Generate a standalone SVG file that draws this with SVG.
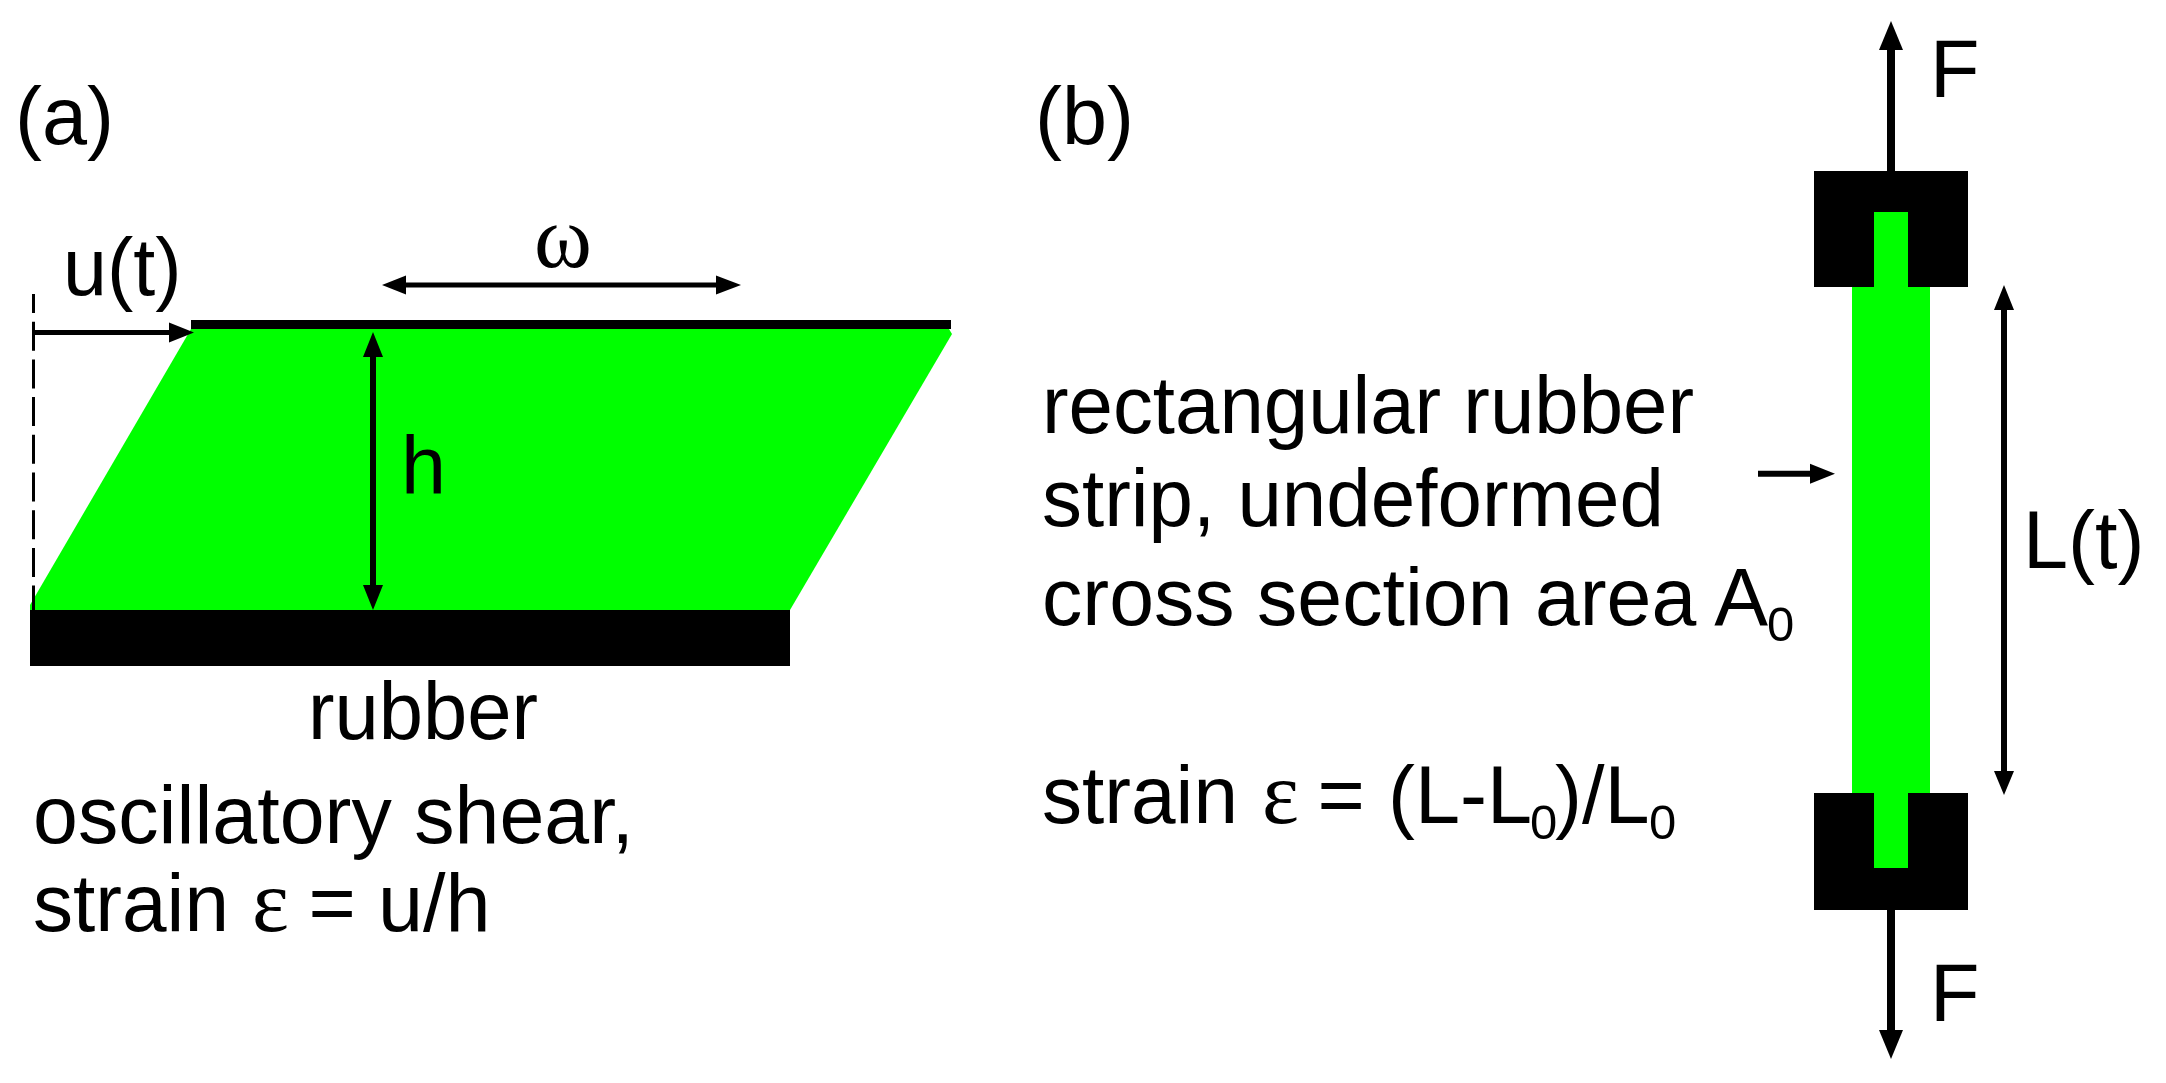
<svg xmlns="http://www.w3.org/2000/svg" width="2166" height="1083" viewBox="0 0 2166 1083">
<style>
text{font-family:"Liberation Sans",Arial,sans-serif;font-size:81px;fill:#000}
.sub{font-size:49px}
.sym{font-family:"Liberation Serif",serif;font-size:88px}
.g{fill:#0f0}
.k{fill:#000}
.l3{stroke:#000;stroke-width:3;fill:none}
.l5{stroke:#000;stroke-width:5;fill:none}
.l6{stroke:#000;stroke-width:6;fill:none}
.l8{stroke:#000;stroke-width:8;fill:none}
</style>
<rect width="2166" height="1083" fill="#fff"/>
<g id="shear-block">
<polygon class="g" points="191,329 949,329 952,334 790,610 30,610 30,605"/>
<rect class="k" x="30" y="610" width="760" height="56"/>
<rect class="k" x="191" y="320" width="760" height="9"/>
</g>
<g id="strip">
<rect class="g" x="1852" y="270" width="78" height="540"/>
<path class="k" d="M1814 171H1968V287H1908V212H1874V287H1814Z"/>
<path class="k" d="M1814 793H1874V868H1908V793H1968V910H1814Z"/>
<rect class="g" x="1874" y="212" width="34" height="75"/>
<rect class="g" x="1874" y="793" width="34" height="75"/>
</g>
<g id="connectors">
<path class="l3" stroke-dasharray="29 8.7" stroke-dashoffset="10" d="M33.5 294V610"/>
<path class="l5" d="M33 332.5H172"/><polygon class="k" points="194,332.5 169,322.5 169,342.5"/>
<path class="l5" d="M404 285H718"/><polygon class="k" points="382,285 406,275.500 406,294.500"/><polygon class="k" points="741,285 716,275.500 716,294.500"/>
<path class="l6" d="M373 352V590"/><polygon class="k" points="373,332 363,357 383,357"/><polygon class="k" points="373,610 363,585 383,585"/>
<path class="l8" d="M1891 171V45"/><polygon class="k" points="1891,21 1879,50 1903,50"/>
<path class="l8" d="M1891 910V1035"/><polygon class="k" points="1891,1059 1879,1030 1903,1030"/>
<path class="l6" d="M2004 305V776"/><polygon class="k" points="2004,285 1994,310 2014,310"/><polygon class="k" points="2004,795 1994,771 2014,771"/>
<path class="l6" d="M1758 473.700H1815"/><polygon class="k" points="1835,473.700 1810,463.700 1810,483.700"/>
</g>
<g id="labels">
<text x="15" y="144">(a)</text>
<text x="1035" y="144">(b)</text>
<text x="63" y="295" textLength="118.500" lengthAdjust="spacingAndGlyphs">u(t)</text>
<text class="sym" x="534" y="267">ω</text>
<text x="401" y="493">h</text>
<text x="308" y="739" textLength="230" lengthAdjust="spacingAndGlyphs">rubber</text>
<text x="33" y="843" textLength="601" lengthAdjust="spacingAndGlyphs">oscillatory shear,</text>
<text y="931"><tspan x="33" textLength="196" lengthAdjust="spacingAndGlyphs">strain</tspan><tspan class="sym" x="252">ε</tspan><tspan x="308.500">=</tspan><tspan x="378">u/h</tspan></text>
<text x="1042" y="433" textLength="652" lengthAdjust="spacingAndGlyphs">rectangular rubber</text>
<text x="1042" y="526" textLength="622" lengthAdjust="spacingAndGlyphs">strip, undeformed</text>
<text y="625"><tspan x="1042" textLength="726" lengthAdjust="spacingAndGlyphs">cross section area A</tspan><tspan class="sub" x="1767" y="641">0</tspan></text>
<text y="823"><tspan x="1042" textLength="196" lengthAdjust="spacingAndGlyphs">strain</tspan><tspan class="sym" x="1262">ε</tspan><tspan x="1317.500">=</tspan><tspan x="1388">(L-L</tspan><tspan class="sub" x="1530" y="839">0</tspan><tspan x="1555" y="823">)/L</tspan><tspan class="sub" x="1649" y="839">0</tspan></text>
<text x="1930" y="97">F</text>
<text x="1930" y="1021">F</text>
<text x="2023" y="568">L(t)</text>
</g>
</svg>
